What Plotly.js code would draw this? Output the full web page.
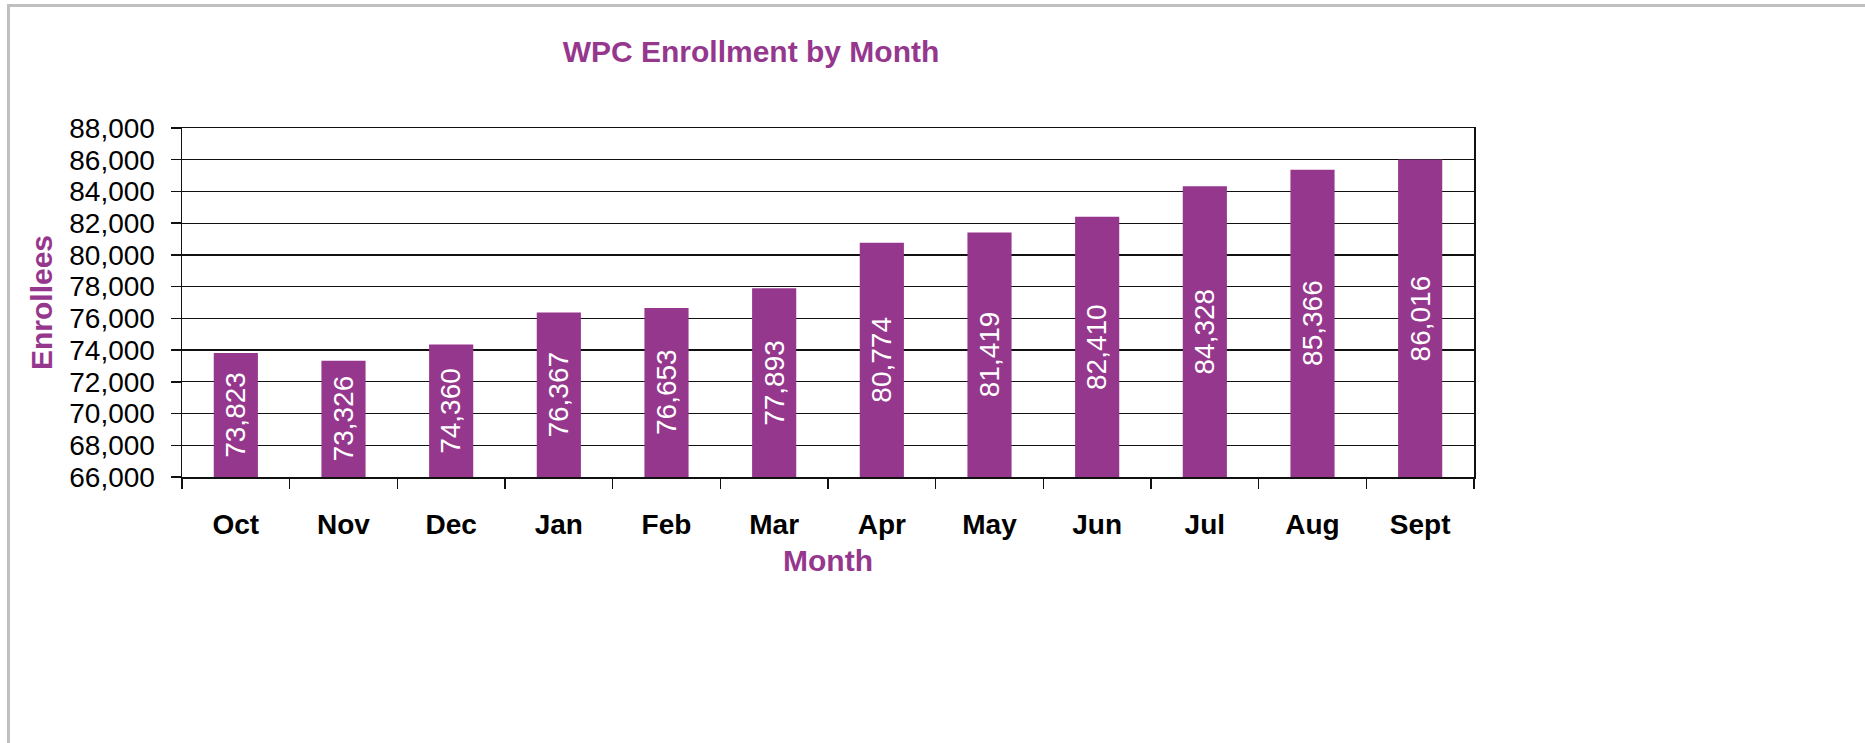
<!DOCTYPE html>
<html>
<head>
<meta charset="utf-8">
<script src="https://cdn.plot.ly/plotly-3.0.1.min.js"></script>
<style>
  html, body { margin: 0; padding: 0; background: #fff; overflow: hidden; }
  #chart { position: absolute; left: 0; top: 0; width: 1865px; height: 743px; }
  #frame { position: absolute; left: 7px; top: 4px; right: 0; bottom: 0;
           border-top: 3px solid #c0c0c0; border-left: 3px solid #c0c0c0;
           pointer-events: none; }
</style>
</head>
<body>
<div id="chart"></div>
<div id="frame"></div>
<script>
const months = ["Oct", "Nov", "Dec", "Jan", "Feb", "Mar", "Apr", "May", "Jun", "Jul", "Aug", "Sept"];
const enrollees = [73823, 73326, 74360, 76367, 76653, 77893, 80774, 81419, 82410, 84328, 85366, 86016];
const yTicks = [66000, 68000, 70000, 72000, 74000, 76000, 78000, 80000, 82000, 84000, 86000, 88000];

const purple = "#96378E";
const font = "Liberation Sans, Arial, sans-serif";
const yMin = yTicks[0], yMax = yTicks[yTicks.length - 1];

const trace = {
  type: "bar",
  x: months,
  y: enrollees,
  marker: { color: purple, line: { width: 0 } },
  width: 0.41,
  hoverinfo: "x+y"
};

// value labels, rotated, centred in the visible part of each bar
const labels = months.map((m, i) => ({
  x: m,
  y: (enrollees[i] + yMin) / 2,
  xref: "x", yref: "y",
  text: enrollees[i].toLocaleString("en-US"),
  textangle: -90,
  showarrow: false,
  xanchor: "center", yanchor: "middle",
  font: { family: font, size: 28, color: "#ffffff" }
}));

const layout = {
  width: 1865,
  height: 743,
  paper_bgcolor: "#ffffff",
  plot_bgcolor: "#ffffff",
  margin: { l: 182, r: 391, t: 128, b: 266, pad: 0 },
  showlegend: false,
  annotations: labels,
  title: {
    text: "<b>WPC Enrollment by Month</b>",
    font: { family: font, size: 30, color: purple },
    xref: "container", yref: "container",
    x: 751 / 1865, xanchor: "center",
    y: 1 - 51 / 743, yanchor: "middle"
  },
  xaxis: {
    type: "category",
    tickson: "boundaries",
    ticks: "outside",
    ticklen: 10,
    tickwidth: 1.5,
    tickcolor: "#111",
    showline: true,
    linecolor: "#111",
    linewidth: 1.5,
    mirror: true,
    showgrid: false,
    tickfont: { family: font, size: 28, color: "#000", weight: "bold" },
    ticklabelstandoff: 22,
    title: {
      text: "<b>Month</b>",
      font: { family: font, size: 30, color: purple },
      standoff: 11
    }
  },
  yaxis: {
    range: [yMin, yMax],
    tickvals: yTicks,
    ticktext: yTicks.map(v => v.toLocaleString("en-US")),
    ticks: "outside",
    ticklen: 10,
    tickwidth: 1.5,
    tickcolor: "#111",
    showline: true,
    linecolor: "#111",
    linewidth: 1.5,
    mirror: true,
    showgrid: true,
    gridcolor: "#111",
    gridwidth: 1.3,
    zeroline: false,
    tickfont: { family: font, size: 28, color: "#000" },
    ticklabelstandoff: 10,
    title: {
      text: "<b>Enrollees</b>",
      font: { family: font, size: 30, color: purple },
      standoff: 8
    }
  }
};

Plotly.newPlot("chart", [trace], layout, { displayModeBar: false, staticPlot: true });
</script>
</body>
</html>
